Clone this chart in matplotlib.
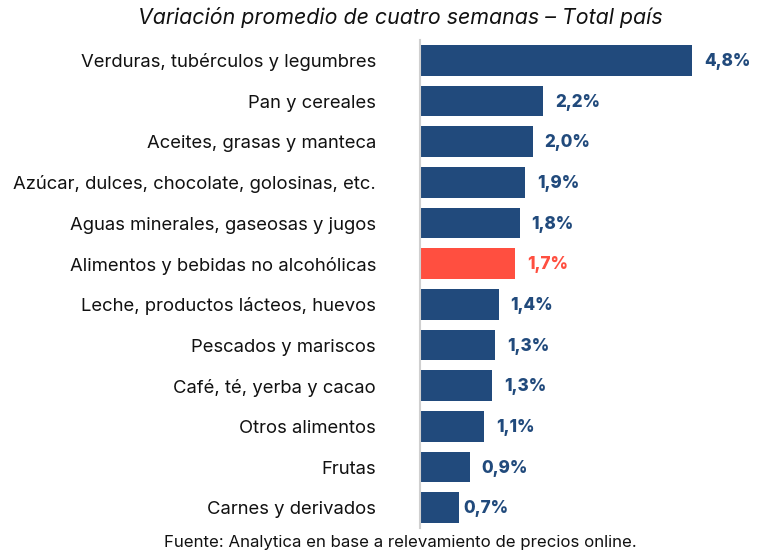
import matplotlib
matplotlib.use("Agg")
import matplotlib.pyplot as plt

categories = [
    "Verduras, tubérculos y legumbres",
    "Pan y cereales",
    "Aceites, grasas y manteca",
    "Azúcar, dulces, chocolate, golosinas, etc.",
    "Aguas minerales, gaseosas y jugos",
    "Alimentos y bebidas no alcohólicas",
    "Leche, productos lácteos, huevos",
    "Pescados y mariscos",
    "Café, té, yerba y cacao",
    "Otros alimentos",
    "Frutas",
    "Carnes y derivados",
]
values = [4.80, 2.17, 1.99, 1.85, 1.76, 1.68, 1.39, 1.32, 1.27, 1.13, 0.88, 0.69]
labels = ["4,8%", "2,2%", "2,0%", "1,9%", "1,8%", "1,7%", "1,4%", "1,3%", "1,3%", "1,1%", "0,9%", "0,7%"]
highlight = "Alimentos y bebidas no alcohólicas"

NAVY = "#214A7C"
RED = "#FF4F40"

plt.rcParams['font.family'] = ['Inter', 'DejaVu Sans']

fig = plt.figure(figsize=(7.66, 5.59), dpi=100)
W, H = 766, 559
ax = fig.add_axes([420 / W, 1 - 528 / H, 320 / W, 488 / H])

colors = [RED if c == highlight else NAVY for c in categories]
y = list(range(len(categories)))
ax.barh(y, values, height=0.76, color=colors, zorder=2)

ax.set_xlim(0, 320 / 56.67)
ax.set_ylim(len(categories) - 0.5, -0.5)

for i, (v, lab, col) in enumerate(zip(values, labels, colors)):
    off = 0.21 if i < len(values) - 1 else 0.07
    ax.text(v + off, i + 0.03, lab, va="center", ha="left", fontsize=12.3, fontweight="heavy", color=col)

ax.set_yticks(y)
ax.set_yticklabels(categories, fontsize=13.3, color="#111111")
ax.tick_params(axis="y", length=0, pad=31.7)
ax.set_xticks([])
for s in ["top", "right", "bottom"]:
    ax.spines[s].set_visible(False)
ax.spines["left"].set_color("#D0D0D0")
ax.spines["left"].set_linewidth(1.5)

fig.text(400 / W, 1 - 17 / H, "Variación promedio de cuatro semanas – Total país",
         ha="center", va="center", fontsize=15.4, style="italic", color="#111111")
fig.text(400 / W, 1 - 542 / H, "Fuente: Analytica en base a relevamiento de precios online.",
         ha="center", va="center", fontsize=12.1, color="#111111")

fig.savefig("out.png", dpi=100)
